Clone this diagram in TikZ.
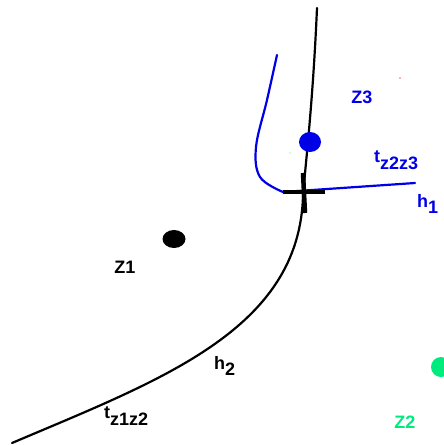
\documentclass[tikz,border=0pt]{standalone}
\usepackage{fontspec}
\setmainfont{Liberation Sans}
\definecolor{zblue}{RGB}{0,0,230}
\definecolor{zgreen}{RGB}{0,235,125}
\tikzset{
  lbl/.style={font=\bfseries\fontsize{18}{18}\selectfont, inner sep=0pt},
  curve/.style={line width=2.2pt, line cap=round},
}
\newcommand{\lowsub}[1]{\raisebox{-0.38em}{#1}}
\begin{document}
\begin{tikzpicture}[x=1pt,y=-1pt]
\useasboundingbox (0,0) rectangle (444,445);
% black curve h2
\draw[curve] (317,8) .. controls (313,100) and (306,160) .. (303,195)
  .. controls (300,330) and (160,380) .. (12,443);
% blue curve h1
\draw[curve, zblue] plot[smooth, tension=0.6] coordinates {(277,55) (267,100) (256,147) (260,177) (283,192)} -- (415,183);
% cross
\draw[line width=4.5pt] (283,192) -- (325,192);
\draw[line width=4.5pt] (303,173) -- (305,213);
% dots
\fill[zblue] (310,142) ellipse (11 and 10);
\fill[black] (174,239) ellipse (11.5 and 9);
\fill[zgreen] (441,367) circle (10);
\fill[red!60] (400,78) circle (0.8);
\fill[green!70] (290,153) circle (0.6);
% labels
\node[lbl, zblue] (z3) at (362,97) {Z3};
\node[lbl, zblue, anchor=west] (t23) at (374,160) {t\lowsub{z2z3}};
\node[lbl, zblue, anchor=west] (h1) at (417,204) {h\lowsub{1}};
\node[lbl] (z1) at (125,267) {Z1};
\node[lbl, anchor=west] (h2) at (214,366) {h\lowsub{2}};
\node[lbl, anchor=west] (t12) at (104,416) {t\lowsub{z1z2}};
\node[lbl, zgreen] (z2) at (405,422) {Z2};
\end{tikzpicture}
\end{document}
